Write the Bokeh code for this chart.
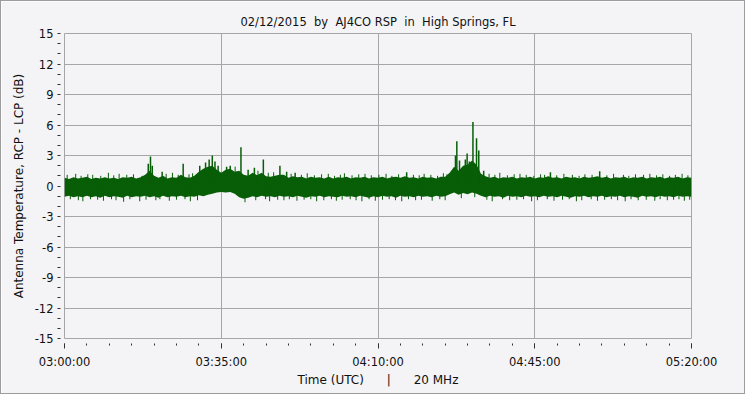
from bokeh.plotting import figure
from bokeh.models import FixedTicker, ColumnDataSource, Range1d
from bokeh.embed import file_html
from bokeh.resources import INLINE

# ---- data (minutes after 03:00 UTC) ----
minutes = list(range(141))
upper = [0.8, 0.7, 0.85, 0.75, 0.8, 0.9, 0.7, 0.8, 0.75, 0.85,
         0.75, 0.8, 0.7, 0.85, 0.8, 0.9, 0.75, 0.85, 1.1, 1.5,
         1.0, 0.8, 1.0, 0.75, 0.85, 0.8, 1.1, 0.85, 0.8, 1.0,
         1.4, 1.7, 1.9, 2.0, 1.6, 1.3, 1.6, 1.7, 1.4, 1.5,
         1.1, 1.0, 1.3, 1.05, 1.3, 0.95, 0.9, 1.0, 1.1, 1.1,
         0.8, 0.95, 0.85, 0.9, 0.75, 0.9, 0.8, 0.85, 0.75, 0.9,
         0.75, 0.85, 0.8, 0.9, 0.75, 0.85, 0.8, 0.9, 0.75, 0.85,
         0.8, 0.9, 0.75, 0.85, 0.9, 0.8, 0.95, 0.8, 0.85, 0.75,
         0.9, 0.8, 0.85, 0.75, 0.9, 0.9, 1.3, 1.9, 1.5, 2.0,
         2.1, 2.5, 2.1, 1.2, 0.95, 0.8, 0.9, 0.75, 0.85, 0.8,
         0.9, 0.75, 0.85, 0.8, 0.9, 0.75, 0.85, 0.8, 0.95, 0.8,
         0.85, 0.75, 0.9, 0.8, 0.85, 0.75, 0.9, 0.8, 0.85, 0.95,
         0.8, 0.9, 0.75, 0.85, 0.8, 0.9, 0.75, 0.85, 0.8, 0.9,
         0.75, 0.85, 0.8, 0.9, 0.75, 0.85, 0.8, 0.9, 0.75, 0.85, 0.8]
lower = [-1.05, -0.95, -1.1, -1.0, -1.1, -0.95, -1.1, -1.0, -1.15, -0.95,
         -1.1, -1.0, -1.05, -1.15, -0.95, -1.1, -1.0, -1.05, -0.95, -1.1,
         -1.0, -1.15, -0.95, -1.1, -1.0, -1.05, -0.95, -1.1, -1.0, -1.05,
         -0.9, -1.0, -0.85, -0.75, -0.65, -0.6, -0.65, -0.6, -0.75, -1.1,
         -1.25, -1.15, -1.0, -1.1, -0.95, -1.05, -1.0, -1.1, -0.95, -1.05,
         -1.0, -1.1, -0.95, -1.05, -1.15, -1.0, -1.05, -0.95, -1.1, -1.0,
         -1.05, -1.1, -0.95, -1.05, -1.0, -1.1, -0.95, -1.05, -1.15, -1.0,
         -1.1, -0.95, -1.05, -1.0, -1.15, -0.95, -1.05, -1.0, -1.1, -0.95,
         -1.05, -1.0, -1.1, -0.95, -1.05, -1.0, -0.8, -0.65, -0.85, -0.7,
         -0.8, -0.65, -0.75, -0.95, -1.1, -0.95, -1.05, -1.0, -1.15, -0.95,
         -1.05, -1.0, -1.1, -0.95, -1.05, -1.0, -1.1, -0.95, -1.05, -1.0,
         -1.1, -0.95, -1.05, -1.15, -1.0, -1.05, -0.95, -1.1, -1.0, -1.05,
         -0.95, -1.1, -1.0, -1.05, -0.95, -1.1, -1.0, -1.05, -1.15, -0.95,
         -1.05, -1.0, -1.1, -0.95, -1.05, -1.0, -1.1, -0.95, -1.05, -1.0, -1.05]

# bursts (minute, dB)
spike_t = [18.7, 19.2, 19.6, 21.8, 26.5, 30.2, 31.5, 32.3, 33.0, 33.6, 34.3,
           36.2, 37.0, 39.4, 41.0, 42.4, 44.4, 48.1, 49.6, 51.5, 76.4,
           87.3, 87.6, 88.2, 89.5, 89.9, 90.4, 91.2, 92.0, 92.5, 93.6,
           108.5, 119.5]
spike_v = [2.2, 2.9, 2.0, 1.4, 2.2, 2.0, 2.3, 2.6, 3.0, 2.4, 2.0,
           1.9, 2.0, 3.8, 1.6, 1.8, 2.6, 2.0, 1.4, 1.3, 1.36,
           3.0, 4.4, 2.5, 2.6, 3.2, 2.4, 6.3, 4.7, 3.5, 1.5,
           1.36, 1.45]

# small noise excursions above the band (minute, dB)
fringe_up_t = [0.6, 2.5, 3.7, 5.2, 6.3, 8.1, 9.8, 11.0, 12.2, 13.9, 15.4, 17.3,
               22.7, 24.1, 25.4, 27.8, 28.6, 29.5, 38.1, 43.2, 45.5, 46.7,
               50.6, 52.9, 54.2, 55.8, 57.4, 58.9, 60.3, 61.6, 62.5, 64.2,
               65.7, 67.1, 68.5, 70.2, 71.8, 73.1, 74.6, 77.9, 79.2, 80.3,
               81.8, 83.3, 84.6, 85.4, 94.8, 96.1, 97.2, 98.9, 100.4, 101.7,
               103.1, 104.8, 106.3, 107.2, 109.9, 111.5, 113.4, 114.9, 116.2,
               117.8, 121.1, 122.6, 124.8, 126.0, 127.5, 129.3, 130.7, 132.2,
               133.6, 135.1, 136.4, 137.9, 139.2]
fringe_up_v = [1.1, 1.2, 1.0, 1.15, 1.1, 1.0, 1.3, 1.05, 1.2, 1.1, 1.15, 1.0,
               1.2, 1.3, 1.1, 1.15, 1.25, 1.1, 1.9, 1.5, 1.3, 1.35,
               1.2, 1.1, 1.25, 1.05, 1.15, 1.2, 1.0, 1.1, 1.25, 1.05,
               1.15, 1.2, 1.05, 1.1, 1.2, 1.0, 1.15, 1.1, 1.05, 1.2,
               1.1, 1.0, 1.25, 1.15, 1.2, 1.1, 1.3, 1.05, 1.15, 1.2,
               1.1, 1.0, 1.15, 1.1, 1.05, 1.2, 1.1, 1.0, 1.15,
               1.1, 1.05, 1.2, 1.1, 1.0, 1.15, 1.1, 1.2, 1.05,
               1.15, 1.0, 1.1, 1.2, 1.05]
# small noise excursions below the band (minute, dB)
fringe_dn_t = [1.3, 3.1, 4.1, 5.8, 7.4, 8.7, 10.5, 11.5, 13.2, 14.6, 16.8, 18.2,
               20.4, 21.3, 23.4, 25.0, 26.9, 28.1, 29.7, 40.3, 42.7, 44.9,
               45.8, 47.6, 49.0, 50.2, 51.9, 53.5, 55.0, 56.3, 57.9, 59.6,
               60.7, 62.0, 63.8, 65.1, 66.4, 68.0, 69.4, 71.0, 72.5, 73.9,
               75.3, 76.8, 78.4, 79.7, 82.1, 83.8, 85.0, 88.6, 91.6, 94.3,
               95.5, 97.8, 99.4, 101.0, 102.5, 104.3, 105.6, 107.8, 109.3,
               111.2, 112.7, 114.3, 115.5, 117.6, 119.0, 120.6, 122.1, 123.5,
               125.2, 126.5, 128.1, 129.9, 131.8, 133.0, 134.6, 136.0, 137.2,
               138.4, 139.6]
fringe_dn_v = [-1.3, -1.4, -1.5, -1.3, -1.35, -1.45, -1.3, -1.4, -1.55, -1.3, -1.5, -1.35,
               -1.4, -1.3, -1.45, -1.35, -1.3, -1.5, -1.4, -1.6, -1.4, -1.3,
               -1.5, -1.35, -1.4, -1.3, -1.45, -1.35, -1.3, -1.5, -1.4, -1.3,
               -1.45, -1.35, -1.3, -1.4, -1.5, -1.3, -1.45, -1.35, -1.3, -1.4,
               -1.5, -1.3, -1.4, -1.35, -1.45, -1.3, -1.4, -1.2, -1.1, -1.35,
               -1.5, -1.3, -1.4, -1.35, -1.3, -1.5, -1.4, -1.3, -1.45,
               -1.35, -1.3, -1.5, -1.4, -1.3, -1.45, -1.35, -1.3, -1.4,
               -1.5, -1.3, -1.4, -1.35, -1.45, -1.3, -1.4, -1.35, -1.3,
               -1.45, -1.35]

x_tick_vals = [0, 35, 70, 105, 140]
x_tick_labels = ["03:00:00", "03:35:00", "04:10:00", "04:45:00", "05:20:00"]
x_minor = list(range(0, 141, 5))
y_tick_vals = [-15, -12, -9, -6, -3, 0, 3, 6, 9, 12, 15]
y_tick_labels = ["-15", "-12", "-9", "-6", "-3", "0", "3", "6", "9", "12", "15"]
y_minor = list(range(-15, 16, 1))

BG = "#f4f4f6"
GREEN = "#075e07"
GRID = "#a6a6a6"
FONT = "DejaVu Sans"
NB = "\u00a0"

band = ColumnDataSource(dict(t=minutes, hi=upper, lo=lower))
spikes = ColumnDataSource(dict(t=spike_t, v=spike_v, z=[0] * len(spike_t)))
fr_up = ColumnDataSource(dict(t=fringe_up_t, v=fringe_up_v, z=[0] * len(fringe_up_t)))
fr_dn = ColumnDataSource(dict(t=fringe_dn_t, v=fringe_dn_v, z=[0] * len(fringe_dn_t)))

p = figure(width=745, height=394, output_backend="svg", toolbar_location=None,
           x_range=Range1d(0, 140), y_range=Range1d(-15, 15),
           min_border_left=63, min_border_right=55,
           min_border_top=32, min_border_bottom=57)
p.styles = {"border": "1px solid #9c9c9c"}
p.background_fill_color = BG
p.border_fill_color = BG
p.outline_line_color = GRID

p.title.text = "02/12/2015" + NB * 2 + "by" + NB * 2 + "AJ4CO RSP" + NB * 2 + "in" + NB * 2 + "High Springs, FL"
p.title.align = "center"
p.title.text_font = FONT
p.title.text_font_size = "11.5px"
p.title.text_font_style = "normal"
p.title.text_color = "#111111"

p.varea(x="t", y1="lo", y2="hi", source=band, fill_color=GREEN)
p.segment(x0="t", y0="z", x1="t", y1="v", source=fr_up, line_color=GREEN, line_width=1)
p.segment(x0="t", y0="z", x1="t", y1="v", source=fr_dn, line_color=GREEN, line_width=1)
p.segment(x0="t", y0="z", x1="t", y1="v", source=spikes, line_color=GREEN, line_width=1.5)

# axes
xa = p.xaxis[0]
xa.ticker = FixedTicker(ticks=x_tick_vals, minor_ticks=x_minor)
xa.major_label_overrides = {v: l for v, l in zip(x_tick_vals, x_tick_labels)}
xa.axis_label = "Time (UTC)" + NB * 6 + "|" + NB * 6 + "20 MHz"
ya = p.yaxis[0]
ya.ticker = FixedTicker(ticks=y_tick_vals, minor_ticks=y_minor)
ya.major_label_overrides = {v: l for v, l in zip(y_tick_vals, y_tick_labels)}
ya.axis_label = "Antenna Temperature, RCP - LCP (dB)"

for ax in (xa, ya):
    ax.axis_line_color = None
    ax.major_tick_line_color = "#333333"
    ax.minor_tick_line_color = "#333333"
    ax.major_label_text_font = FONT
    ax.major_label_text_font_size = "11.5px"
    ax.major_label_text_color = "#111111"
    ax.axis_label_text_font = FONT
    ax.axis_label_text_font_size = "12px"
    ax.axis_label_text_font_style = "normal"
    ax.axis_label_text_color = "#111111"

xa.major_tick_in = -5
xa.major_tick_out = 10
xa.minor_tick_in = -5
xa.minor_tick_out = 7
xa.major_label_standoff = 6
xa.axis_label_standoff = 1

ya.major_tick_in = -5
ya.major_tick_out = 6
ya.minor_tick_in = -4
ya.minor_tick_out = 7
ya.major_label_standoff = 4
ya.axis_label_standoff = 6

p.xgrid.ticker = FixedTicker(ticks=x_tick_vals)
p.ygrid.ticker = FixedTicker(ticks=y_tick_vals)
p.xgrid.grid_line_color = GRID
p.ygrid.grid_line_color = GRID

open("out.html", "w").write(file_html(p, INLINE))
